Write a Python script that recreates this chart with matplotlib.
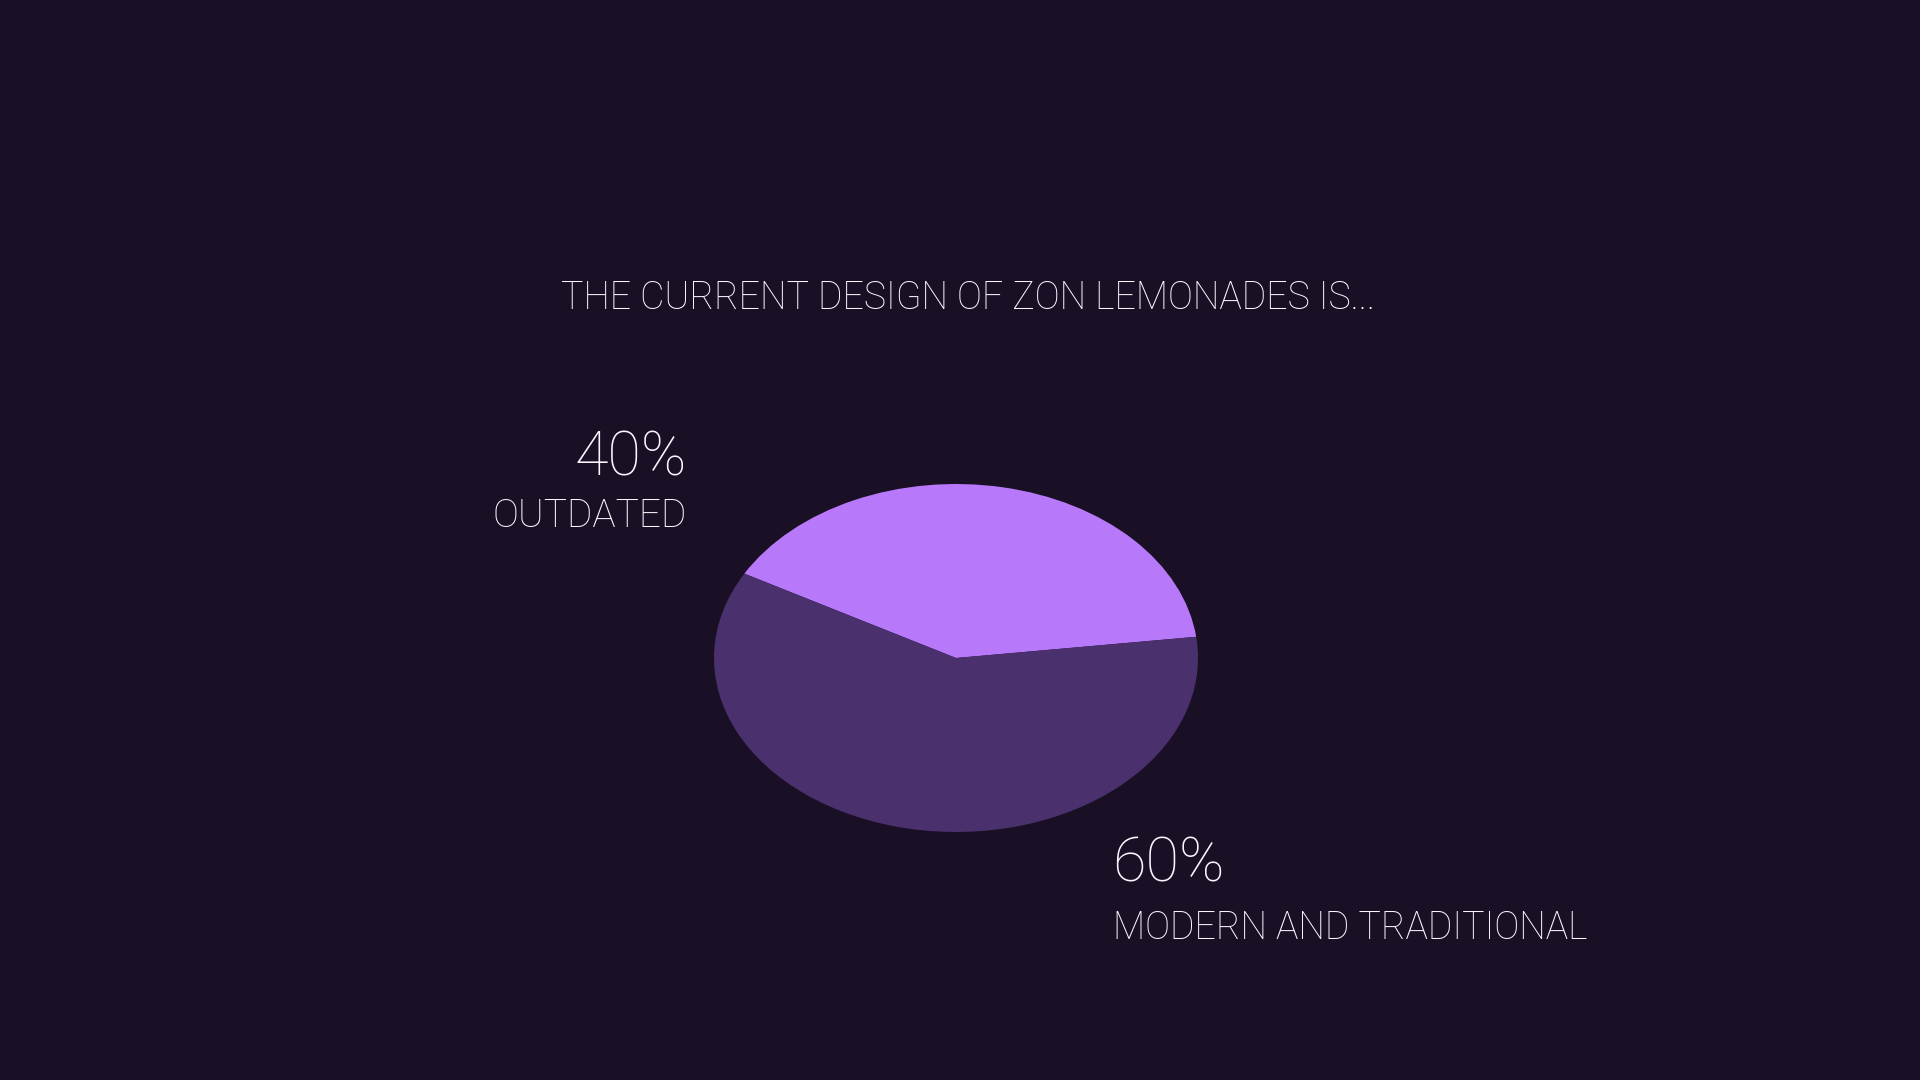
import matplotlib
matplotlib.use('Agg')
import matplotlib.pyplot as plt

# data
labels = ['Outdated', 'Modern and traditional']
shares = [40, 60]
colors = ['#b878fa', '#4a306d']
title = 'The current design of Zon lemonades is...'

bg = '#1a1025'
txt = '#fbf6ff'
fam = ['Roboto', 'DejaVu Sans']

fig = plt.figure(figsize=(19.2, 10.8), dpi=100, facecolor=bg)

# pie drawn as a flat ellipse
ax = fig.add_axes([714 / 1920, 248 / 1080, 484 / 1920, 348 / 1080])
ax.set_facecolor(bg)
ax.pie(shares, colors=colors, startangle=7, counterclock=True,
       wedgeprops=dict(linewidth=0))
ax.set_aspect('auto')
ax.set_xlim(-1, 1)
ax.set_ylim(-1, 1)
ax.axis('off')

fig.text(968 / 1920, 1 - 298 / 1080, title.upper(), ha='center', va='center',
         color=txt, fontsize=27, family=fam, fontweight='light')

fig.text(687 / 1920, 1 - 458 / 1080, f'{shares[0]}%', ha='right', va='center',
         color=txt, fontsize=44, family=fam, fontweight='light')
fig.text(687 / 1920, 1 - 516 / 1080, labels[0].upper(), ha='right', va='center',
         color=txt, fontsize=28, family=fam, fontweight='light')

fig.text(1112 / 1920, 1 - 865 / 1080, f'{shares[1]}%', ha='left', va='center',
         color=txt, fontsize=44, family=fam, fontweight='light')
fig.text(1113 / 1920, 1 - 928 / 1080, labels[1].upper(), ha='left', va='center',
         color=txt, fontsize=27, family=fam, fontweight='light')

fig.savefig('out.png', facecolor=bg)
